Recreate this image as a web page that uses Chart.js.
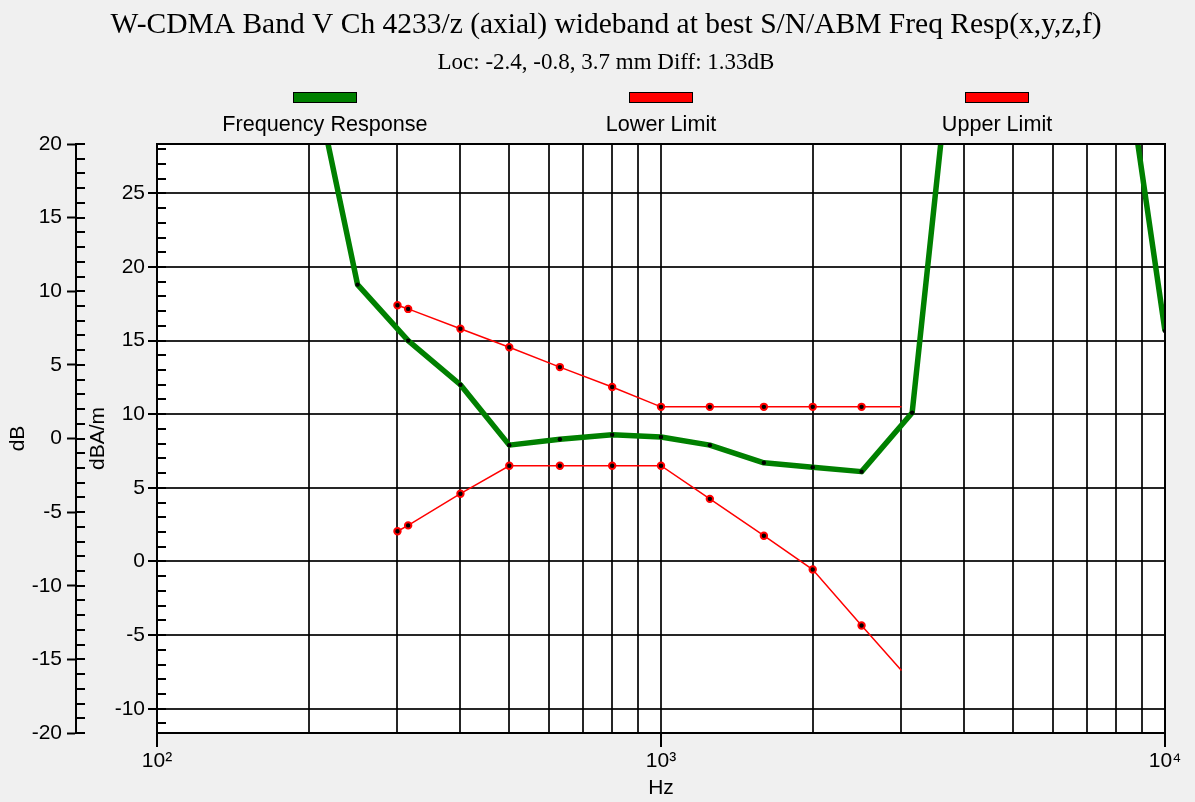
<!DOCTYPE html>
<html>
<head>
<meta charset="utf-8">
<title>Freq Resp</title>
<script src="https://cdn.jsdelivr.net/npm/chart.js@4.4.1/dist/chart.umd.min.js"></script>
<style>
  html, body { margin:0; padding:0; background:#f0f0f0; }
  canvas { display:block; }
</style>
</head>
<body>
<canvas id="chart" width="1195" height="802"></canvas>
<script>
/* =========================
   Data (dBA/m)
========================= */
const respFreq  = [200, 250, 315, 400, 500, 630, 800, 1000, 1250, 1600, 2000, 2500, 3150, 4000, 8000, 10000];
const respLevel = [34.6, 18.8, 15.0, 12.0, 7.9, 8.3, 8.6, 8.45, 7.9, 6.7, 6.4, 6.1, 10.1, 43.5, 38.5, 15.65];

const limitFreq  = [300, 315, 400, 500, 630, 800, 1000, 1250, 1600, 2000, 2500, 3000];
const lowerLimit = [2.05, 2.45, 4.6, 6.5, 6.5, 6.5, 6.5, 4.25, 1.75, -0.55, -4.35, -7.4];
const upperLimit = [17.4, 17.15, 15.8, 14.55, 13.2, 11.85, 10.5, 10.5, 10.5, 10.5, 10.5, 10.5];

const xGrid        = [100,200,300,400,500,600,700,800,900,1000,2000,3000,4000,5000,6000,7000,8000,9000,10000];
const decades      = [100, 1000, 10000];
const decadeLabels = ['10\u00B2', '10\u00B3', '10\u2074'];
const dbTicks      = [-20, -15, -10, -5, 0, 5, 10, 15, 20];
const dbamTicks    = [-10, -5, 0, 5, 10, 15, 20, 25];

const TITLE    = 'W-CDMA Band V Ch 4233/z (axial) wideband at best S/N/ABM Freq Resp(x,y,z,f)';
const SUBTITLE = 'Loc: -2.4, -0.8, 3.7 mm Diff: 1.33dB';

const SANS  = '"Liberation Sans", Arial, sans-serif';
const SERIF = '"Liberation Serif", "Times New Roman", serif';

function pts(xs, ys){ return xs.map((x,i)=>({x, y:ys[i]})); }

/* =========================
   Plugins: background, titles, frame, inner minor ticks, legend
========================= */
const plotDecor = {
  id: 'plotDecor',
  beforeDraw(chart){
    const {ctx, chartArea:a} = chart;
    ctx.save();
    ctx.fillStyle = '#f0f0f0';
    ctx.fillRect(0, 0, chart.width, chart.height);
    ctx.fillStyle = '#ffffff';
    ctx.fillRect(a.left, a.top, a.right - a.left, a.bottom - a.top);
    ctx.restore();
  },
  afterDraw(chart){
    const {ctx, chartArea:a} = chart;
    ctx.save();

    // titles
    ctx.fillStyle = '#000';
    ctx.textAlign = 'center';
    ctx.textBaseline = 'middle';
    ctx.font = '29.5px ' + SERIF;
    ctx.fillText(TITLE, 606, 25);
    ctx.font = '23px ' + SERIF;
    ctx.fillText(SUBTITLE, 606, 62.5);

    // frame top / right
    ctx.strokeStyle = '#000'; ctx.lineWidth = 2;
    ctx.beginPath();
    ctx.moveTo(a.left, a.top); ctx.lineTo(a.right, a.top); ctx.lineTo(a.right, a.bottom);
    ctx.stroke();

    // minor ticks pointing inward on both vertical axes
    ['yDb', 'y'].forEach(id=>{
      const s = chart.scales[id];
      ctx.beginPath();
      for(let v = Math.ceil(s.min); v <= Math.floor(s.max); v++){
        const y = Math.round(s.getPixelForValue(v));
        ctx.moveTo(s.right, y); ctx.lineTo(s.right + 9, y);
      }
      ctx.stroke();
    });

    // legend: swatch above label, centred in thirds of the plot width
    const w = (a.right - a.left) / chart.data.datasets.length;
    ctx.font = '21.6px ' + SANS;
    chart.data.datasets.forEach((ds, i)=>{
      const cx = a.left + w*(i + 0.5);
      ctx.fillStyle = ds.borderColor;
      ctx.fillRect(cx - 32, a.top - 52, 64, 11);
      ctx.lineWidth = 1; ctx.strokeStyle = '#000';
      ctx.strokeRect(cx - 31.5, a.top - 51.5, 63, 10);
      ctx.fillStyle = '#000';
      ctx.fillText(ds.label, cx, a.top - 19);
    });
    ctx.restore();
  }
};

/* =========================
   Chart
========================= */
const gridCol = 'rgba(0,0,0,0.85)';
const tickFont = {family: SANS, size: 21};
const limitRadius = limitFreq.map((f,i)=> i === limitFreq.length-1 ? 0 : 3.2);

new Chart(document.getElementById('chart'), {
  type: 'line',
  data: {
    datasets: [
      {
        label: 'Frequency Response',
        data: pts(respFreq, respLevel),
        yAxisID: 'y',
        borderColor: '#008000',
        borderWidth: 5.5,
        borderJoinStyle: 'round',
        pointRadius: 2.2,
        pointBackgroundColor: '#000',
        pointBorderWidth: 0,
        tension: 0,
        order: 3
      },
      {
        label: 'Lower Limit',
        data: pts(limitFreq, lowerLimit),
        yAxisID: 'y',
        borderColor: '#ff0000',
        borderWidth: 1.5,
        pointRadius: limitRadius,
        pointBackgroundColor: '#000',
        pointBorderColor: '#ff0000',
        pointBorderWidth: 2,
        tension: 0,
        order: 1
      },
      {
        label: 'Upper Limit',
        data: pts(limitFreq, upperLimit),
        yAxisID: 'y',
        borderColor: '#ff0000',
        borderWidth: 1.5,
        pointRadius: limitRadius,
        pointBackgroundColor: '#000',
        pointBorderColor: '#ff0000',
        pointBorderWidth: 2,
        tension: 0,
        order: 2
      }
    ]
  },
  options: {
    responsive: false,
    animation: false,
    layout: { padding: { left: 0, right: 30, top: 144, bottom: 0 } },
    plugins: {
      legend: { display: false },
      tooltip: { enabled: false },
      title: { display: false }
    },
    scales: {
      x: {
        type: 'logarithmic',
        position: 'bottom',
        min: 100, max: 10000,
        afterBuildTicks: s => { s.ticks = xGrid.map(v=>({value:v})); },
        afterFit: s => { s.height = 69; },
        ticks: {
          autoSkip: false, maxRotation: 0, minRotation: 0,
          padding: 2, color: '#000', font: tickFont,
          callback: v => { const i = decades.indexOf(v); return i < 0 ? '' : decadeLabels[i]; }
        },
        grid: {
          color: gridCol, lineWidth: 2,
          tickLength: 14, tickWidth: 2,
          tickColor: c => (c.tick && decades.includes(c.tick.value)) ? '#000' : 'rgba(0,0,0,0)'
        },
        border: { color: '#000', width: 2 },
        title: { display: true, text: 'Hz', color: '#000', font: tickFont, padding: { top: 0, bottom: 1.4 } }
      },
      y: {
        position: 'left',
        weight: 0,
        min: -11.65, max: 28.35,
        afterBuildTicks: s => { s.ticks = dbamTicks.map(v=>({value:v})); },
        afterFit: s => { s.width = 81; },
        ticks: { autoSkip: false, padding: 3, color: '#000', font: tickFont },
        grid: { color: gridCol, lineWidth: 2, tickLength: 9, tickWidth: 2, tickColor: '#000' },
        border: { color: '#000', width: 2 },
        title: { display: true, text: 'dBA/m', color: '#000', font: tickFont, padding: { top: 9.7, bottom: 0 } }
      },
      yDb: {
        position: 'left',
        weight: 1,
        min: -20, max: 20,
        afterBuildTicks: s => { s.ticks = dbTicks.map(v=>({value:v})); },
        afterFit: s => { s.width = 76; },
        ticks: { autoSkip: false, padding: 5, color: '#000', font: tickFont },
        grid: { drawOnChartArea: false, tickLength: 9, tickWidth: 2, tickColor: '#000' },
        border: { color: '#000', width: 2 },
        title: { display: true, text: 'dB', color: '#000', font: tickFont, padding: { top: 5.7, bottom: 0 } }
      }
    }
  },
  plugins: [plotDecor]
});
</script>
</body>
</html>
